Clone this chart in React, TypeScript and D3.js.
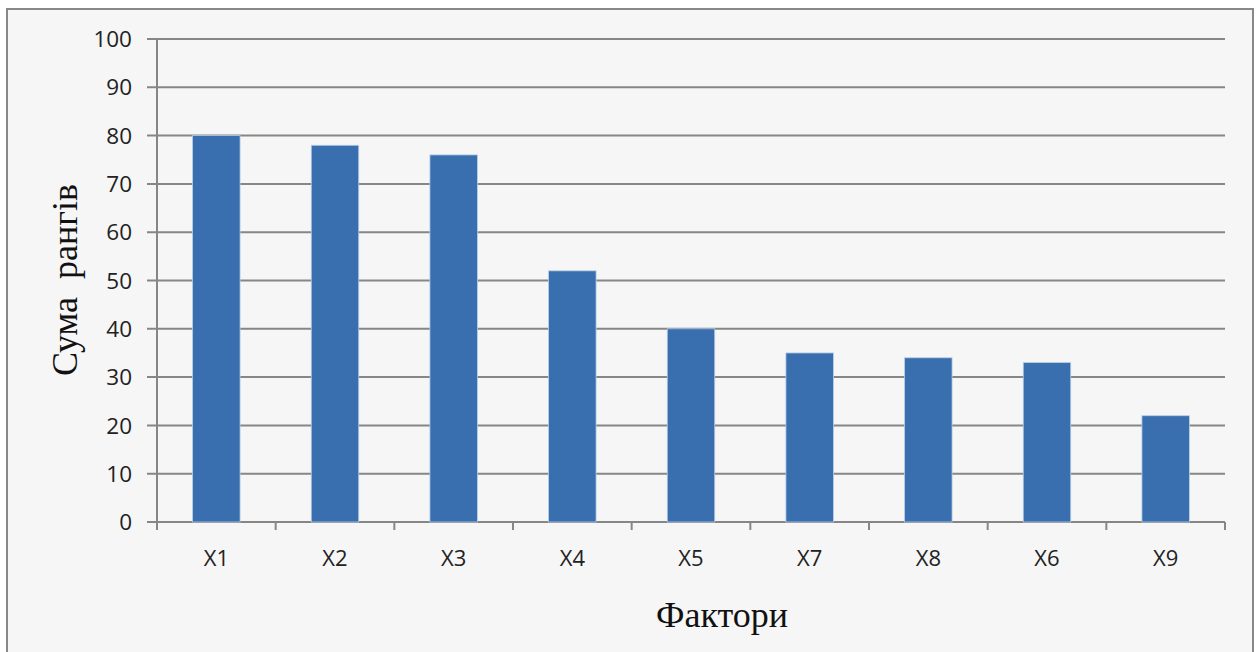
import React from "react";
import * as d3 from "d3";

const categories = ["X1", "X2", "X3", "X4", "X5", "X7", "X8", "X6", "X9"];
const rankSums = [80, 78, 76, 52, 40, 35, 34, 33, 22];
const yTicks = [0, 10, 20, 30, 40, 50, 60, 70, 80, 90, 100];

const W = 1259;
const H = 652;
const left = 157;
const right = 1225;
const top = 39;
const bottom = 522;

export default function App() {
  const x = d3.scaleBand<string>().domain(categories).range([left, right]).paddingInner(0.6).paddingOuter(0.3);
  const band = d3.scaleBand<string>().domain(categories).range([left, right]);
  const y = d3.scaleLinear().domain([0, 100]).range([bottom, top]);
  const grid = "#868686";
  const labelFont = "Open Sans, Liberation Sans, sans-serif";
  const titleFont = "Liberation Serif, Times New Roman, serif";

  return (
    <svg width={W} height={H} style={{ position: "absolute", left: 0, top: 0 }}>
      <rect x={0} y={0} width={W} height={H} fill="#ffffff" />
      <rect x={7} y={9} width={1246} height={660} fill="#f6f6f6" stroke="#888" strokeWidth={2} />
      {yTicks.map((t) => (
        <g key={t}>
          <line x1={147} x2={right} y1={y(t)} y2={y(t)} stroke={grid} strokeWidth={2} />
          <text x={132} y={y(t)} dy="0.36em" textAnchor="end" fontFamily={labelFont} fontSize={22.5} fill="#222">
            {t}
          </text>
        </g>
      ))}
      <line x1={left} x2={left} y1={top} y2={bottom} stroke={grid} strokeWidth={2} />
      {categories.map((c) => (
        <line key={"t" + c} x1={band(c)!} x2={band(c)!} y1={bottom} y2={bottom + 8} stroke={grid} strokeWidth={2} />
      ))}
      <line x1={right} x2={right} y1={bottom} y2={bottom + 8} stroke={grid} strokeWidth={2} />
      {categories.map((c, i) => (
        <rect
          key={c}
          x={x(c)!}
          y={y(rankSums[i])}
          width={x.bandwidth()}
          height={bottom - y(rankSums[i])}
          fill="#3a6faf"
          stroke="#b8cde6"
          strokeWidth={0.8}
        />
      ))}
      {categories.map((c) => (
        <text
          key={"l" + c}
          x={band(c)! + band.bandwidth() / 2}
          y={558}
          dy="0.36em"
          textAnchor="middle"
          fontFamily={labelFont}
          fontSize={22}
          fill="#222"
        >
          {c}
        </text>
      ))}
      <text x={722} y={614} dy="0.35em" textAnchor="middle" fontFamily={titleFont} fontSize={36} fill="#111">
        Фактори
      </text>
      <text
        transform={`translate(64, 280) rotate(-90)`}
        dy="0.35em"
        textAnchor="middle"
        fontFamily={titleFont}
        fontSize={36}
        fill="#111"
        style={{ whiteSpace: "pre" }}
      >
        {"Сума  рангів"}
      </text>
    </svg>
  );
}
